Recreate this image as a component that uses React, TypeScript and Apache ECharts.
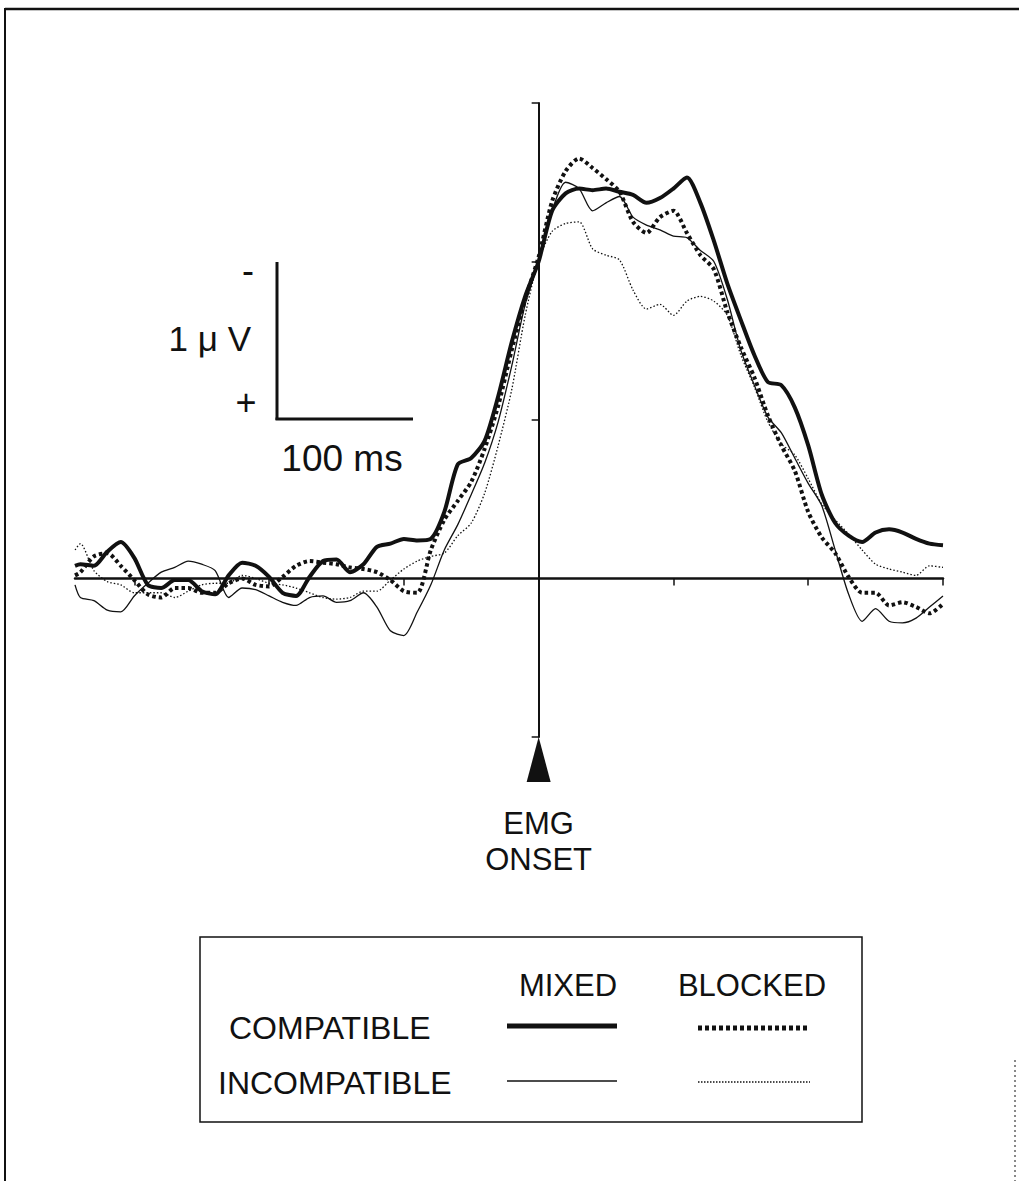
import React, { useEffect, useRef } from "react";
import * as echarts from "echarts";

// time in ms relative to EMG onset
const times = [
  -344, -340, -330, -320, -310, -300, -290, -280, -270, -260,
  -250, -240, -230, -220, -210, -200, -190, -180, -170, -160,
  -150, -140, -130, -120, -110, -100, -90, -80, -70, -60,
  -50, -40, -30, -20, -10, 0, 10, 20, 30, 40,
  50, 60, 70, 80, 90, 100, 110, 120, 130, 140,
  150, 160, 170, 180, 190, 200, 210, 220, 230, 240,
  250, 260, 270, 280, 290, 300,
];

// amplitude in microvolts (negative plotted upward)
const mixedCompatible = [
  -0.08, -0.09, -0.08, -0.17, -0.23, -0.13, 0.04, 0.06, 0.01, 0.01,
  0.08, 0.1, -0.02, -0.1, -0.08, -0.01, 0.09, 0.11, -0.01, -0.11,
  -0.12, -0.04, -0.09, -0.2, -0.22, -0.25, -0.24, -0.25, -0.42, -0.72,
  -0.76, -0.87, -1.15, -1.49, -1.78, -2.0, -2.32, -2.43, -2.46, -2.45,
  -2.46, -2.44, -2.42, -2.37, -2.4, -2.46, -2.53, -2.37, -2.13, -1.86,
  -1.63, -1.41, -1.24, -1.22, -1.08, -0.84, -0.53, -0.35, -0.27, -0.23,
  -0.29, -0.31, -0.29, -0.25, -0.22, -0.21,
];

const mixedIncompatible = [
  0.04, 0.12, 0.14, 0.2, 0.21, 0.11, 0.03, -0.04, -0.07, -0.11,
  -0.09, -0.05, 0.12, 0.06, 0.07, 0.11, 0.15, 0.17, 0.12, 0.11,
  0.15, 0.14, 0.09, 0.18, 0.33, 0.36, 0.21, 0.04, -0.18, -0.34,
  -0.53, -0.73, -0.99, -1.34, -1.73, -2.0, -2.32, -2.5, -2.46, -2.32,
  -2.37, -2.41, -2.28, -2.23, -2.2, -2.16, -2.15, -2.07, -2.0, -1.76,
  -1.44, -1.22, -1.02, -0.92, -0.76, -0.6, -0.46, -0.18, 0.1, 0.27,
  0.19, 0.27, 0.28, 0.25, 0.18, 0.11,
];

const blockedCompatible = [
  -0.02, -0.04, -0.14, -0.16, -0.08, 0.01, 0.1, 0.12, 0.06, 0.06,
  0.09, 0.09, 0.03, 0.0, 0.04, 0.05, -0.01, -0.08, -0.11, -0.1,
  -0.09, -0.07, -0.06, -0.04, 0.01, 0.08, 0.09, -0.18, -0.37, -0.49,
  -0.61, -0.82, -1.09, -1.44, -1.76, -2.03, -2.38, -2.57, -2.65, -2.59,
  -2.52, -2.44, -2.25, -2.18, -2.28, -2.32, -2.18, -2.04, -1.95, -1.68,
  -1.46, -1.27, -1.03, -0.84, -0.68, -0.42, -0.26, -0.16, -0.01, 0.09,
  0.09, 0.17, 0.15, 0.18, 0.22, 0.16,
];

const blockedIncompatible = [
  -0.18, -0.22, -0.05, 0.02, 0.04, 0.09, 0.09, 0.09, 0.12, 0.08,
  0.04, 0.03, 0.03, -0.02, 0.0, 0.03, 0.04, 0.06, 0.09, 0.12,
  0.13, 0.12, 0.08, 0.08, 0.01, -0.06, -0.11, -0.14, -0.16, -0.27,
  -0.35, -0.54, -0.84, -1.19, -1.66, -2.01, -2.19, -2.24, -2.25, -2.08,
  -2.04, -2.01, -1.82, -1.7, -1.73, -1.66, -1.75, -1.78, -1.75, -1.66,
  -1.41, -1.21, -0.99, -0.85, -0.78, -0.63, -0.47, -0.37, -0.28, -0.18,
  -0.09, -0.06, -0.04, -0.02, -0.08, -0.07,
];

const xTicks = [-300, -200, -100, 100, 200, 300];
const yTicks = [-3, -2, -1, 1];

const legendColumns = ["MIXED", "BLOCKED"];
const legendRows = ["COMPATIBLE", "INCOMPATIBLE"];
const onsetLabel = ["EMG", "ONSET"];
const scaleLabels = { minus: "-", amp: "1 \u03bc V", plus: "+", time: "100 ms" };

const FONT = "'Liberation Sans', Arial, Helvetica, sans-serif";
const INK = "#111";

function pairs(vals: number[]) {
  return times.map((t, i) => [t, vals[i]]);
}

export default function App() {
  const ref = useRef<HTMLDivElement>(null);

  useEffect(() => {
    if (!ref.current) return;
    const chart = echarts.init(ref.current, null, { renderer: "svg" });

    const line = (name: string, vals: number[], width: number, type: any, z: number) => ({
      name,
      type: "line",
      data: pairs(vals),
      symbol: "none",
      smooth: 0.25,
      clip: false,
      z,
      lineStyle: { color: INK, width, type, join: "round" },
    });

    const text = (t: string, x: number, y: number, size: number, align = "left") => ({
      type: "text",
      x,
      y,
      style: {
        text: t,
        fill: INK,
        font: `${size}px ${FONT}`,
        align,
        verticalAlign: "middle",
      },
    });

    const seg = (x1: number, y1: number, x2: number, y2: number, w: number, dash?: number[]) => ({
      type: "line",
      shape: { x1, y1, x2, y2 },
      style: { stroke: INK, lineWidth: w, lineDash: dash, lineCap: "butt" },
    });

    chart.setOption({
      animation: false,
      backgroundColor: "#fff",
      grid: { left: 75, top: 103, width: 868, height: 634 },
      xAxis: {
        type: "value",
        min: -344,
        max: 300,
        axisLine: { onZero: true, lineStyle: { color: INK, width: 2.5 } },
        axisTick: { show: true, customValues: xTicks, length: 7, lineStyle: { color: INK, width: 1.5 } },
        axisLabel: { show: false },
        splitLine: { show: false },
      },
      yAxis: {
        type: "value",
        inverse: true,
        min: -3,
        max: 1,
        axisLine: { onZero: true, lineStyle: { color: INK, width: 2 } },
        axisTick: { show: true, customValues: yTicks, length: 7, lineStyle: { color: INK, width: 1.5 } },
        axisLabel: { show: false },
        splitLine: { show: false },
      },
      series: [
        line("Mixed compatible", mixedCompatible, 4, "solid", 4),
        line("Blocked compatible", blockedCompatible, 4, [3.5, 3], 3),
        line("Mixed incompatible", mixedIncompatible, 1.3, "solid", 5),
        line("Blocked incompatible", blockedIncompatible, 1.3, [1.5, 2], 6),
      ],
    });

    const [ax, ay] = chart.convertToPixel({ gridIndex: 0 }, [0, 1]) as number[];

    chart.setOption({
      graphic: [
        // page frame
        seg(5, 9, 1019, 9, 2.5),
        seg(5, 8, 5, 1181, 2),
        seg(1015, 1060, 1015, 1181, 1, [2, 3]),
        // onset arrow
        {
          type: "polygon",
          shape: { points: [[ax, ay], [ax - 12, ay + 45], [ax + 12, ay + 45]] },
          style: { fill: INK },
        },
        text(onsetLabel[0], ax, ay + 86, 31, "center"),
        text(onsetLabel[1], ax, ay + 122, 31, "center"),
        // calibration bar
        seg(277, 262, 277, 420, 3),
        seg(275.5, 419, 413, 419, 3),
        text(scaleLabels.minus, 248, 270, 36, "center"),
        text(scaleLabels.amp, 251, 338, 35, "right"),
        text(scaleLabels.plus, 246, 402, 36, "center"),
        text(scaleLabels.time, 342, 458, 37, "center"),
        // legend box
        {
          type: "rect",
          shape: { x: 200, y: 937, width: 662, height: 185 },
          style: { fill: "none", stroke: INK, lineWidth: 1.5 },
        },
        text(legendColumns[0], 568, 985, 31, "center"),
        text(legendColumns[1], 752, 985, 31, "center"),
        text(legendRows[0], 229, 1028, 32, "left"),
        text(legendRows[1], 218, 1083, 32, "left"),
        seg(507, 1026, 617, 1026, 5),
        seg(507, 1081, 617, 1081, 1.6),
        seg(698, 1028, 810, 1028, 5, [4, 3]),
        seg(698, 1082, 810, 1082, 1.6, [1.5, 1.5]),
      ],
    });

    return () => chart.dispose();
  }, []);

  return (
    <div
      ref={ref}
      style={{ position: "absolute", left: 0, top: 0, width: 1019, height: 1181 }}
    />
  );
}
